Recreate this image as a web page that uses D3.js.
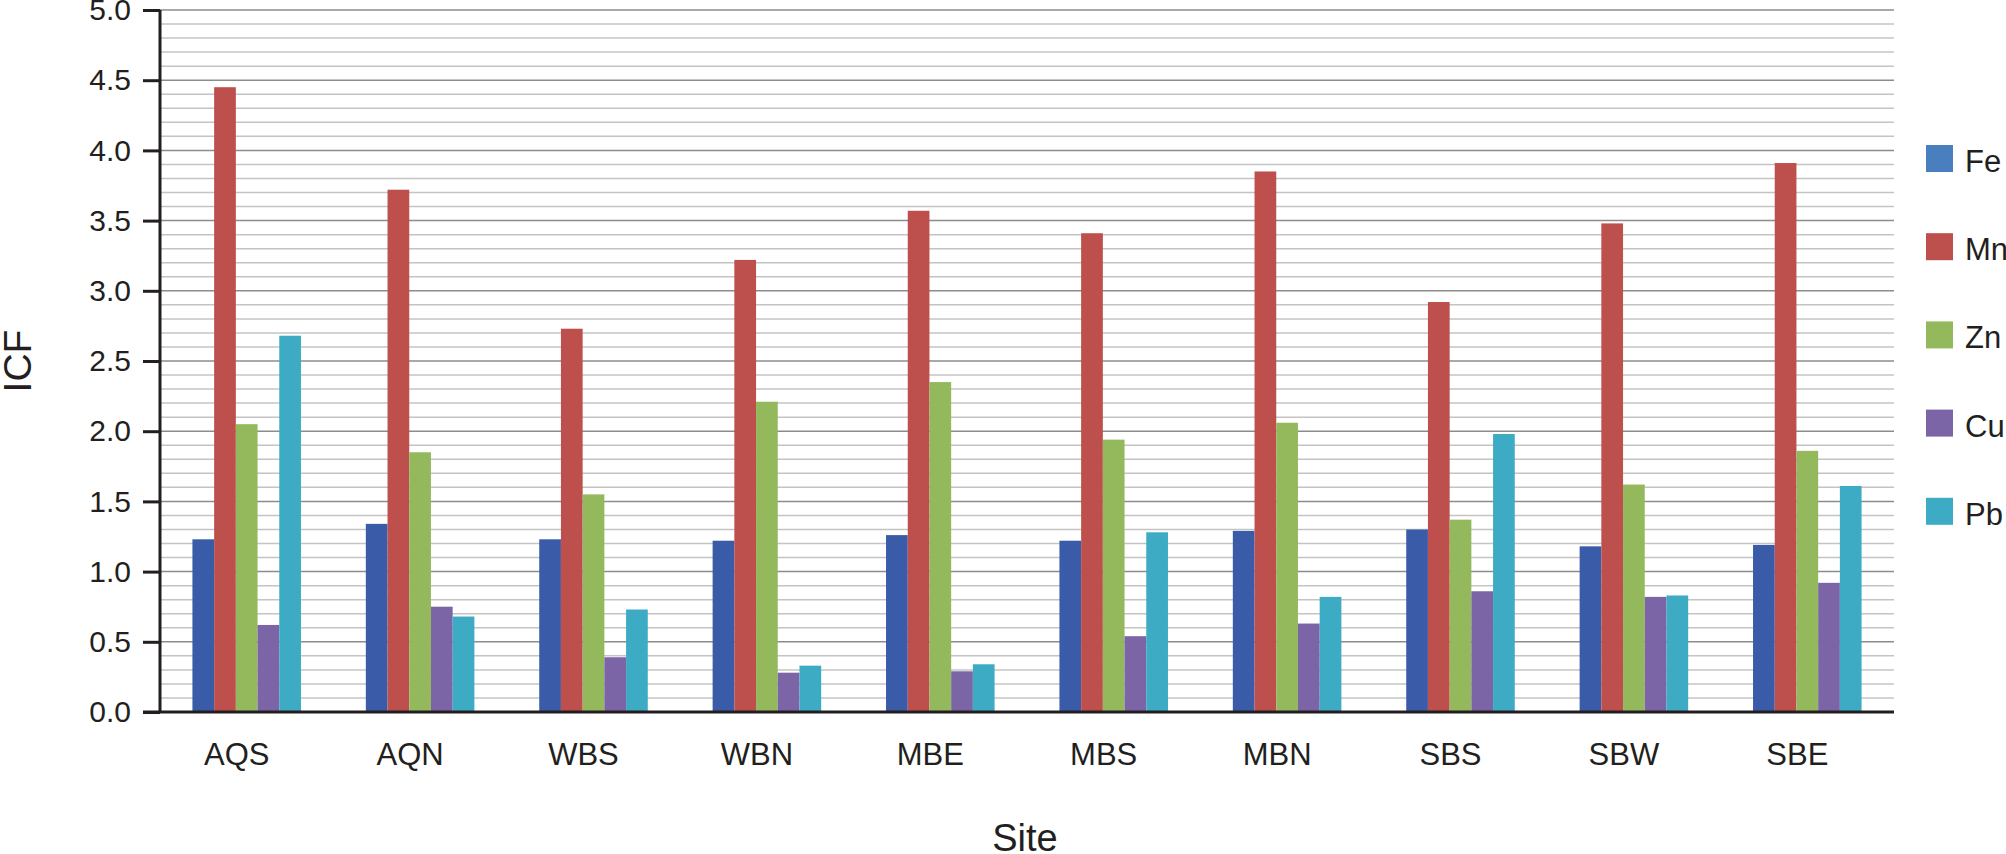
<!DOCTYPE html>
<html>
<head>
<meta charset="utf-8">
<script src="https://cdn.jsdelivr.net/npm/d3@7"></script>
<style>
  html, body { margin: 0; padding: 0; background: #ffffff; }
  svg { display: block; font-family: "Liberation Sans", Arial, Helvetica, sans-serif; }
</style>
</head>
<body>
<svg id="chart" width="2006" height="854"></svg>
<script>
// ---- data ----
const sites = ["AQS", "AQN", "WBS", "WBN", "MBE", "MBS", "MBN", "SBS", "SBW", "SBE"];
const elements = ["Fe", "Mn", "Zn", "Cu", "Pb"];
const feValues = [1.23, 1.34, 1.23, 1.22, 1.26, 1.22, 1.29, 1.30, 1.18, 1.19];
const mnValues = [4.45, 3.72, 2.73, 3.22, 3.57, 3.41, 3.85, 2.92, 3.48, 3.91];
const znValues = [2.05, 1.85, 1.55, 2.21, 2.35, 1.94, 2.06, 1.37, 1.62, 1.86];
const cuValues = [0.62, 0.75, 0.39, 0.28, 0.29, 0.54, 0.63, 0.86, 0.82, 0.92];
const pbValues = [2.68, 0.68, 0.73, 0.33, 0.34, 1.28, 0.82, 1.98, 0.83, 1.61];
const yTickLabels = ["0.0", "0.5", "1.0", "1.5", "2.0", "2.5", "3.0", "3.5", "4.0", "4.5", "5.0"];

const seriesValues = [feValues, mnValues, znValues, cuValues, pbValues];
const barColors = ["#3a5ca8", "#bd4f4c", "#94b95c", "#7c65a7", "#3eabc5"];
const legendColors = ["#4a7fbf", "#bd4f4c", "#94b95c", "#7c65a7", "#3eabc5"];

// ---- layout ----
const svg = d3.select("#chart");
const plotLeft = 160, plotRight = 1894, plotTop = 10, plotBottom = 712;
const axisColor = "#231f20";

const x0 = d3.scaleBand().domain(sites).range([plotLeft, plotRight])
  .paddingInner(0.374).paddingOuter(0.187);
const x1 = d3.scaleBand().domain(elements).range([0, x0.bandwidth()]).padding(0);
const y = d3.scaleLinear().domain([0, 5]).range([plotBottom, plotTop]);

// gridlines every 0.1
const gridVals = d3.range(1, 51).map(i => i / 10);
svg.append("g").selectAll("line").data(gridVals).join("line")
  .attr("x1", plotLeft).attr("x2", plotRight)
  .attr("y1", d => y(d)).attr("y2", d => y(d))
  .attr("stroke", d => (Math.round(d * 10) % 5 === 0) ? "#8c8c8c" : "#c4c4c4")
  .attr("stroke-width", 1.5);

// bars
const rows = sites.map((s, i) => ({ site: s, vals: elements.map((e, j) => ({ key: e, value: seriesValues[j][i], color: barColors[j] })) }));
svg.append("g").selectAll("g").data(rows).join("g")
  .attr("transform", d => `translate(${x0(d.site)},0)`)
  .selectAll("rect").data(d => d.vals).join("rect")
  .attr("x", d => x1(d.key))
  .attr("width", x1.bandwidth())
  .attr("y", d => y(d.value))
  .attr("height", d => y(0) - y(d.value))
  .attr("fill", d => d.color);

// y axis
const yAxis = d3.axisLeft(y)
  .tickValues(yTickLabels.map(Number))
  .tickFormat((d, i) => yTickLabels[i])
  .tickSize(17).tickPadding(12);
const gy = svg.append("g").attr("transform", `translate(${plotLeft},0)`).call(yAxis);
gy.select(".domain").attr("stroke", axisColor).attr("stroke-width", 3).attr("d", `M0,${plotTop}V${plotBottom}`);
gy.selectAll(".tick line").attr("stroke", axisColor).attr("stroke-width", 3);
gy.selectAll(".tick text").attr("fill", "#231f20").style("font-size", "30px")
  .style("font-family", "'Liberation Sans', Arial, sans-serif");

// x axis
const xAxis = d3.axisBottom(x0).tickSize(0).tickPadding(0);
const gx = svg.append("g").attr("transform", `translate(0,${plotBottom})`).call(xAxis);
gx.select(".domain").attr("stroke", axisColor).attr("stroke-width", 3).attr("d", `M${plotLeft - 17},0H${plotRight}`);
gx.selectAll(".tick text").attr("fill", "#231f20").style("font-size", "31px")
  .style("font-family", "'Liberation Sans', Arial, sans-serif")
  .attr("dy", null).attr("y", 53).attr("dx", -10);

// axis titles
svg.append("text").attr("x", 1025).attr("y", 851).attr("text-anchor", "middle")
  .style("font-size", "38px").attr("fill", "#231f20").text("Site");
svg.append("text").attr("transform", `translate(31,${(plotTop + plotBottom) / 2}) rotate(-90)`)
  .attr("text-anchor", "middle").style("font-size", "39px").attr("fill", "#231f20").text("ICF");

// legend
const legend = svg.append("g").selectAll("g").data(elements).join("g")
  .attr("transform", (d, i) => `translate(1926,${145 + i * 88.2})`);
legend.append("rect").attr("width", 27).attr("height", 27)
  .attr("fill", (d, i) => legendColors[i]);
legend.append("text").attr("x", 39).attr("y", 27)
  .style("font-size", "31px").attr("fill", "#231f20").text(d => d);
</script>
</body>
</html>
